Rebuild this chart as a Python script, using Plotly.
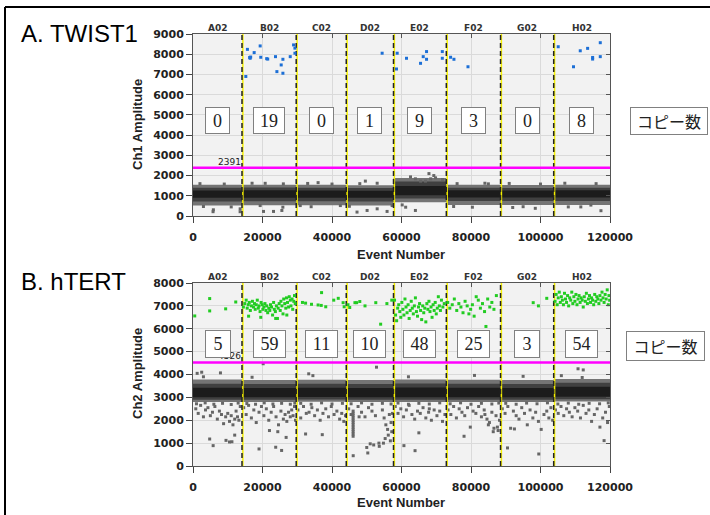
import plotly.graph_objects as go

W, H = 710, 515
def px(x):
    return x / W
def py(y):
    return 1 - y / H

# ---------------- data ----------------
wells = ["A02", "B02", "C02", "D02", "E02", "F02", "G02", "H02"]
well_edges = [0, 14100, 29700, 44100, 57700, 72900, 88500, 103800, 120000]
ch1_counts = ["0", "19", "0", "1", "9", "3", "0", "8"]
ch2_counts = ["5", "59", "11", "10", "48", "25", "3", "54"]
ch1_threshold = 2391
ch2_threshold = 4526
x_ticks = [0, 20000, 40000, 60000, 80000, 100000, 120000]
ch1_y_ticks = [0, 1000, 2000, 3000, 4000, 5000, 6000, 7000, 8000, 9000]
ch2_y_ticks = [0, 1000, 2000, 3000, 4000, 5000, 6000, 7000, 8000]

# negative droplet cloud per well (outer / mid / core bands)
ch1_outer_lo = [520, 530, 530, 520, 680, 540, 540, 540]
ch1_outer_hi = [1540, 1550, 1540, 1520, 1880, 1540, 1530, 1540]
ch1_mid_lo = [720, 730, 730, 720, 860, 740, 740, 740]
ch1_mid_hi = [1400, 1410, 1400, 1390, 1700, 1400, 1390, 1400]
ch1_core_lo = [900, 900, 900, 900, 1020, 910, 910, 910]
ch1_core_hi = [1260, 1270, 1260, 1250, 1480, 1270, 1260, 1270]

ch2_outer_lo = [2800, 2800, 2810, 2800, 2800, 2800, 2800, 2820]
ch2_outer_hi = [3780, 3760, 3770, 3760, 3780, 3770, 3760, 3800]
ch2_mid_lo = [2900, 2900, 2910, 2900, 2900, 2900, 2900, 2920]
ch2_mid_hi = [3600, 3590, 3600, 3590, 3610, 3600, 3590, 3640]
ch2_core_lo = [3010, 3010, 3020, 3010, 3010, 3010, 3010, 3030]
ch2_core_hi = [3420, 3410, 3420, 3410, 3430, 3420, 3410, 3460]

# Ch1 positive droplets (blue)
ch1_pos_x = [15200, 15660, 16300, 16440, 16600, 17600, 19330, 19500, 21200, 21500,
             23740, 24140, 25380, 25870, 25870, 27980, 28940, 29330, 29330,
             54430,
             58760, 58560, 61440, 65480, 66250, 67210, 67210, 71740, 71740,
             74130, 75090, 79130,
             105100, 109500, 111440, 113560, 115000, 115000, 117200, 117200]
ch1_pos_y = [6900, 8240, 7840, 7800, 7860, 8080, 8410, 7850, 7780, 7760,
             7880, 7140, 7470, 7750, 7060, 7880, 8460, 8300, 8050,
             8050,
             8050, 7270, 7800, 7550, 7880, 8130, 7750, 8130, 7800,
             7850, 7750, 7380,
             8370, 7380, 8170, 8290, 7840, 7760, 8570, 7880]

# Ch1 negative outliers (gray)
ch1_neg_x = [5860, 13570, 19330, 20770, 23170, 25570, 25860, 20290, 30860, 42400,
             47200, 49600, 50100, 53000, 55850, 57300, 62600, 64000, 65500, 67900,
             68400, 69800, 71800, 66900, 69300, 61200, 64000, 60200, 80400, 117400,
             111600, 114500, 5770, 13560, 92000, 98500, 36000, 84000,
             2000, 9000, 17000, 26000, 33000, 40000, 48000, 53000, 76000, 85000,
             91000, 100000, 107000, 116000,
             3000, 11000, 34000, 45000, 75000, 95000, 108000]
ch1_neg_y = [306, 355, 516, 1616, 226, 274, 435, 226, 516, 516,
             194, 1726, 274, 355, 226, 516, 1935, 1839, 1726, 2097,
             1839, 1887, 1806, 1726, 2000, 435, 274, 548, 435, 262,
             450, 540, 213, 213, 420, 380, 1650, 1620,
             1600, 1580, 1620, 1590, 1610, 1580, 1600, 1620, 1600, 1590,
             1610, 1580, 1620, 1600,
             470, 450, 460, 480, 470, 460, 450]

# Ch2 positive droplets (green)
ch2_pos_x = [500, 4800, 4800, 9400, 12300,
             14500, 14900, 15300, 15600, 15900, 16200, 16500, 16800, 17100, 17400,
             17700, 17900, 18200, 18500, 18800, 19000, 19300, 19600, 19900, 20100,
             20400, 20700, 21000, 21200, 21500, 21800, 22100, 22300, 22600, 22900,
             23200, 23400, 23700, 24000, 24300, 24500, 24800, 25100, 25300, 25600,
             25900, 26100, 26400, 26700, 26900, 27200, 27500, 27700, 28000, 28200,
             28500, 28700, 29000, 29200, 29400, 16000, 19500, 23800, 27000,
             31500, 32400, 34100, 36000, 36900, 37000, 38200, 40500, 41800, 43200, 43500,
             44600, 45100, 46600, 47100, 48000, 49500, 52600, 54000, 55800, 57200,
             58000, 58300, 58600, 58900, 59200, 59500, 59800, 60100, 60400, 60700,
             61000, 61300, 61600, 61900, 62200, 62500, 62800, 63100, 63400, 63700,
             64000, 64300, 64600, 64900, 65200, 65500, 65800, 66100, 66400, 66700,
             67000, 67300, 67600, 67900, 68200, 68500, 68800, 69100, 69400, 69700,
             70000, 70300, 70600, 70900, 71200, 71500, 71900, 72300,
             73300, 73900, 74600, 75200, 75900, 76500, 77100, 77700, 78300, 78900,
             79400, 79900, 80400, 80900, 81500, 82100, 82700, 83300, 83900, 84300,
             84800, 85400, 86000, 86600, 87300,
             97900, 99400, 101800,
             104200, 104500, 104800, 105100, 105400, 105700, 106000, 106300, 106600, 106900,
             107200, 107500, 107800, 108100, 108400, 108700, 109000, 109300, 109600, 109900,
             110200, 110500, 110800, 111100, 111400, 111700, 112000, 112300, 112600, 112900,
             113200, 113500, 113800, 114100, 114400, 114700, 115000, 115300, 115600, 115900,
             116200, 116500, 116800, 117100, 117400, 117700, 118000, 118300, 118600, 118900,
             119200, 119500, 119700, 119900]
ch2_pos_y = [6560, 7320, 6780, 6870, 7170,
             6950, 7100, 7250, 6900, 7050, 7150, 6800, 7000, 7200, 6950,
             7100, 6850, 7050, 7250, 6900, 7000, 6750, 7150, 7050, 6850,
             6950, 7100, 6800, 7000, 6700, 6900, 6800, 7050, 6950, 6600,
             7150, 6850, 6750, 7000, 6450, 6900, 7100, 6800, 7200, 7000,
             6650, 7300, 7100, 6900, 7350, 7150, 6950, 7400, 7250, 7000,
             7300, 6850, 7200, 7450, 7100, 6550, 6500, 6450, 6600,
             7150, 7120, 7070, 7040, 7020, 7580, 6960, 7250, 7330, 7140, 6960,
             7050, 6930, 7140, 7140, 7190, 7000, 7140, 6200, 7100, 7250,
             7250, 6600, 6350, 6900, 7050, 6750, 6500, 7150, 6850, 6600,
             7300, 6950, 6700, 7050, 6450, 6800, 7200, 6900, 6650, 7000,
             7350, 6750, 6550, 6950, 7100, 6800, 6400, 7000, 6700, 6900,
             6300, 7100, 6850, 7200, 6750, 6950, 6500, 7050, 6800, 7150,
             6650, 6900, 7400, 7000, 6800, 7250, 6950, 7100,
             7150, 6900, 7050, 7300, 6800, 7100, 6950, 6700, 7200, 7000,
             6650, 6850, 7050, 6550, 7400, 7250, 6900, 7100, 6750, 6100,
             7300, 6950, 7150, 6850, 7450,
             7140, 7000, 7330,
             7200, 7500, 7050, 7350, 7600, 7150, 7400, 7250, 7050, 7550,
             7300, 7150, 7450, 7000, 7350, 7250, 7600, 7100, 7400, 7200,
             7500, 7050, 7300, 7450, 7150, 7350, 7250, 6950, 7400, 7200,
             7550, 7100, 7300, 7450, 7150, 7350, 7250, 7050, 7500, 7200,
             7400, 7300, 7100, 7450, 7250, 7600, 7350, 7150, 7500, 7300,
             7700, 7050, 7450, 7250]

# Ch2 negative outliers (gray)
ch2_neg_x = [800, 1500, 2200, 3000, 3600, 4300, 5000, 5600, 6300, 7000,
             7600, 8200, 8800, 9400, 10000, 10500, 11000, 11500, 12000, 12400,
             12800, 13200, 13600, 4800, 5800, 9500, 10500, 11200, 12000, 1200,
             2500, 7900,
             14600, 15300, 16000, 16800, 17500, 18200, 19000, 19700, 20400, 21100,
             21800, 22500, 23200, 23900, 24600, 25300, 26000, 26500, 27000, 27500,
             28000, 28400, 28800, 29200, 29500, 19000, 23800, 25500, 22000, 26800,
             24400, 20200,
             30200, 31000, 31800, 32600, 33400, 34200, 35000, 35800, 36600, 37400,
             38200, 39000, 39800, 40600, 41400, 42200, 42800, 43400, 43900, 32400,
             37200, 33300,
             46080, 46080, 46080, 46080, 46080, 46080, 46080, 46080, 46080, 46080,
             46080, 46080,
             44800, 45500, 47500, 48500, 49500, 50500, 51000, 51500, 52500, 53500,
             54500, 55000, 55500, 56000, 56500, 57000, 57400, 46100, 50000, 50300,
             52000, 53600, 55300, 56200, 56800, 57200, 47800, 54800, 52800,
             58200, 59000, 59800, 60600, 61400, 62200, 63000, 63800, 64600, 65400,
             66200, 67000, 67800, 68600, 69400, 70200, 71000, 71800, 72500, 60700,
             63900, 65000, 68000,
             73400, 74200, 75000, 75800, 76600, 77400, 78200, 79000, 79800, 80600,
             81400, 82200, 83000, 83800, 84600, 85300, 86000, 86600, 87200, 87800,
             88200, 85000, 86400, 87600, 78000, 81000, 84000,
             89000, 89800, 90600, 91400, 92200, 93000, 93800, 94600, 95400, 96200,
             97000, 97800, 98600, 99400, 100200, 101000, 101800, 102400, 103000, 103500,
             90500, 99500, 92500,
             104300, 105100, 105900, 106700, 107500, 108300, 109100, 109900, 110700, 111500,
             112300, 113100, 113900, 114700, 115500, 116300, 117100, 117900, 118700, 119300,
             119800, 118300, 110800, 112300, 106000,
             1000, 3500, 6000, 8500, 11000, 13000,
             15500, 18000, 20500, 23000, 25500, 28000, 29300,
             31000, 34000, 37000, 40000, 43000,
             45500, 48500, 51500, 54500, 57000,
             59000, 62000, 65000, 68000, 71000,
             74000, 77000, 80000, 83000, 86000, 88000,
             90000, 93000, 96000, 99000, 102000,
             105000, 108000, 111000, 114000, 117000, 119500,
             3000, 17000, 34500, 62000, 95000, 112000]
ch2_neg_y = [2500, 2300, 2650, 2150, 2450, 2550, 2200, 2350, 2600, 2050,
             2400, 2250, 1850, 2150, 2300, 1950, 2200, 1800, 2050, 2400,
             2150, 2000, 2600, 1180, 890, 1120, 1050, 1060, 1350, 4050,
             4100, 4070,
             2550, 2250, 2650, 2100, 2450, 1900, 2350, 2600, 2200, 2500,
             2000, 2350, 2600, 2150, 1800, 2400, 2050, 2250, 1950, 2350,
             2150, 2450, 2200, 2600, 2000, 745, 820, 680, 1550, 1250,
             1500, 4470,
             2450, 2100, 2600, 2300, 2350, 2550, 2200, 2450, 2000, 2300,
             2500, 2150, 2600, 2250, 2400, 2050, 2300, 1950, 2200, 1400,
             1370, 4030,
             2400, 2300, 2200, 2100, 2000, 1900, 1800, 1700, 1600, 1500,
             1400, 1300,
             2500, 2250, 2600, 2350, 2150, 2550, 970, 2400, 2200, 1000,
             2450, 2100, 1800, 1600, 2250, 1900, 2300, 450, 810, 570,
             920, 860, 1200, 1350, 1100, 1500, 2150, 1000, 4320,
             2600, 2300, 2500, 2150, 2450, 2650, 2250, 2050, 2400, 2300,
             2550, 2100, 2350, 2000, 2450, 2200, 2400, 1950, 2250, 890,
             670, 1450, 2500,
             2450, 2250, 2600, 2100, 2500, 2350, 2200, 2550, 1700, 2400,
             2300, 2600, 2150, 2450, 2050, 1900, 2350, 1650, 2200, 1550,
             2000, 1800, 1500, 1700, 1300, 3960, 2250,
             2500, 2300, 2600, 1650, 2400, 2200, 2050, 2550, 2300, 1800,
             2450, 2100, 2350, 1950, 1600, 2250, 2400, 2100, 2550, 2000,
             790, 525, 1620,
             2450, 2300, 2600, 2200, 2500, 2350, 2150, 2550, 2400, 2100,
             2650, 2300, 2450, 1950, 2250, 2500, 1700, 2100, 2350, 1900,
             2600, 1110, 4250, 4200, 3950,
             2720, 2760, 2700, 2740, 2690, 2750,
             2730, 2700, 2760, 2710, 2740, 2700, 2750,
             2740, 2700, 2760, 2710, 2740,
             2720, 2760, 2700, 2740, 2710,
             2750, 2700, 2740, 2710, 2760,
             2720, 2760, 2700, 2740, 2710, 2750,
             2740, 2700, 2750, 2720, 2760,
             2710, 2750, 2700, 2740, 2720, 2760,
             3900, 3880, 3950, 3900, 3920, 3870]

# ---------------- figure ----------------
fig = go.Figure()

def band(lo, hi, color, xa, ya):
    xs, ys = [], []
    for i in range(len(lo)):
        a, b = well_edges[i], well_edges[i + 1]
        xs += [a, b, b, a, a, None]
        ys += [lo[i], lo[i], hi[i], hi[i], lo[i], None]
    fig.add_trace(go.Scatter(x=xs, y=ys, mode="lines", fill="toself", fillcolor=color,
                             line=dict(width=0, color=color), hoverinfo="skip",
                             xaxis=xa, yaxis=ya, showlegend=False))

def points(xv, yv, color, xa, ya, size=3):
    fig.add_trace(go.Scatter(x=xv, y=yv, mode="markers",
                             marker=dict(symbol="square", size=size, color=color, line=dict(width=0)),
                             xaxis=xa, yaxis=ya, showlegend=False, hoverinfo="skip"))

def dividers(ymax, xa, ya):
    xs, ys = [], []
    for b in well_edges[1:-1]:
        xs += [b, b, None]
        ys += [0, ymax, None]
    fig.add_trace(go.Scatter(x=[v + 250 if v is not None else None for v in xs], y=ys, mode="lines",
                             line=dict(color="#f5f000", width=1.5), xaxis=xa, yaxis=ya,
                             showlegend=False, hoverinfo="skip"))
    fig.add_trace(go.Scatter(x=xs, y=ys, mode="lines",
                             line=dict(color="#222222", width=1.5, dash="5px,3px"), xaxis=xa, yaxis=ya,
                             showlegend=False, hoverinfo="skip"))

def threshold(val, xa, ya):
    fig.add_trace(go.Scatter(x=[well_edges[0], well_edges[-1]], y=[val, val], mode="lines",
                             line=dict(color="#ff00ff", width=2.5), xaxis=xa, yaxis=ya,
                             showlegend=False, hoverinfo="skip"))

# panel A
band(ch1_outer_lo, ch1_outer_hi, "#747474", "x", "y")
band(ch1_mid_lo, ch1_mid_hi, "#404040", "x", "y")
band(ch1_core_lo, ch1_core_hi, "#1c1c1c", "x", "y")
points(ch1_neg_x, ch1_neg_y, "#666666", "x", "y")
dividers(9000, "x", "y")
points(ch1_pos_x, ch1_pos_y, "#1c6fd6", "x", "y")
threshold(ch1_threshold, "x", "y")

# panel B
band(ch2_outer_lo, ch2_outer_hi, "#747474", "x2", "y2")
band(ch2_mid_lo, ch2_mid_hi, "#404040", "x2", "y2")
band(ch2_core_lo, ch2_core_hi, "#1c1c1c", "x2", "y2")
points(ch2_neg_x, ch2_neg_y, "#666666", "x2", "y2")
dividers(8000, "x2", "y2")
points(ch2_pos_x, ch2_pos_y, "#22cc22", "x2", "y2")
threshold(ch2_threshold, "x2", "y2")

# invisible traces so that the mirrored tick axes (top/right) are drawn
fig.add_trace(go.Scatter(x=[None], y=[None], xaxis="x3", yaxis="y3", showlegend=False, hoverinfo="skip"))
fig.add_trace(go.Scatter(x=[None], y=[None], xaxis="x4", yaxis="y4", showlegend=False, hoverinfo="skip"))

tickfont = dict(family="DejaVu Sans", size=11, color="#222222", weight="bold")
axis_common = dict(showgrid=True, gridcolor="#dadada", gridwidth=1, zeroline=False,
                   showline=True, linecolor="#555555", linewidth=1, mirror=True,
                   ticks="outside", ticklen=6, tickcolor="#444444", tickfont=tickfont,
                   automargin=False)
inner_ticks = dict(showgrid=False, zeroline=False, showline=False, ticks="inside", ticklen=4,
                   tickcolor="#555555", showticklabels=False, automargin=False)

fig.update_layout(
    width=W, height=H, margin=dict(l=0, r=0, t=0, b=0, pad=0, autoexpand=False),
    paper_bgcolor="white", plot_bgcolor="#f2f2f2", showlegend=False,
    xaxis=dict(domain=[px(193), px(610)], range=[0, 120000], anchor="y",
               tickvals=x_ticks, ticktext=[str(v) for v in x_ticks], ticklabelstandoff=5, **axis_common),
    yaxis=dict(domain=[py(216), py(34)], range=[0, 9000], anchor="x",
               tickvals=ch1_y_ticks, ticktext=[str(v) for v in ch1_y_ticks], **axis_common),
    xaxis2=dict(domain=[px(193), px(610)], range=[0, 120000], anchor="y2",
                tickvals=x_ticks, ticktext=[str(v) for v in x_ticks], ticklabelstandoff=5, **axis_common),
    yaxis2=dict(domain=[py(466), py(283)], range=[0, 8000], anchor="x2",
                tickvals=ch2_y_ticks, ticktext=[str(v) for v in ch2_y_ticks], **axis_common),
    xaxis3=dict(overlaying="x", side="top", anchor="y3", range=[0, 120000], tickvals=x_ticks, **inner_ticks),
    yaxis3=dict(overlaying="y", side="right", anchor="x3", range=[0, 9000], tickvals=ch1_y_ticks, **inner_ticks),
    xaxis4=dict(overlaying="x2", side="top", anchor="y4", range=[0, 120000], tickvals=x_ticks, **inner_ticks),
    yaxis4=dict(overlaying="y2", side="right", anchor="x4", range=[0, 8000], tickvals=ch2_y_ticks, **inner_ticks),
)

ann = []
def note(text, x, y, xref="paper", font=None, **kw):
    d = dict(text=text, x=x, y=y, xref=xref, yref="paper", showarrow=False,
             xanchor="center", yanchor="middle", font=font)
    d.update(kw)
    ann.append(d)

title_big = dict(family="Liberation Sans", size=24, color="black")
note("A. TWIST1", px(19), py(33), font=title_big, xanchor="left")
note("B. hTERT", px(19), py(281), font=title_big, xanchor="left")

title_font = dict(family="Liberation Sans", size=13, color="#222222", weight="bold")
note("Ch1 Amplitude", px(137), py(125), font=title_font, textangle=-90)
note("Ch2 Amplitude", px(137), py(374), font=title_font, textangle=-90)
note("Event Number", px(401), py(254), font=title_font)
note("Event Number", px(401), py(502), font=title_font)

well_font = dict(family="DejaVu Sans", size=9, color="#333333", weight="bold")
for i, w in enumerate(wells):
    c = (well_edges[i] + well_edges[i + 1]) / 2
    note(w, c, py(28), xref="x", font=well_font)
    note(w, c, py(277), xref="x2", font=well_font)

thr_font = dict(family="DejaVu Sans", size=9, color="#222222")
note(str(ch1_threshold), px(229), py(162), font=thr_font)
note(str(ch2_threshold), px(229), py(356), font=thr_font)

box_font = dict(family="Liberation Serif", size=18, color="#222222")
box_style = dict(borderpad=0, borderwidth=1, bordercolor="#808080", bgcolor="white")
for i, t in enumerate(ch1_counts):
    c = (well_edges[i] + well_edges[i + 1]) / 2
    note(t, c, py(120), xref="x", font=box_font, width=30 if len(t) > 1 else 23, height=25, **box_style)
for i, t in enumerate(ch2_counts):
    c = (well_edges[i] + well_edges[i + 1]) / 2
    note(t, c, py(344), xref="x2", font=box_font, width=31 if len(t) > 1 else 24, height=26, **box_style)

copy_font = dict(family="Noto Sans CJK JP", size=16, color="#222222")
note("コピー数", px(669), py(121), font=copy_font, width=76, height=26, **box_style)
note("コピー数", px(665), py(346), font=copy_font, width=77, height=28, **box_style)

fig.update_layout(annotations=ann)

# outer frame (left and top edges visible)
fig.add_shape(type="line", xref="paper", yref="paper", x0=px(5), x1=px(5), y0=0, y1=py(7),
              line=dict(color="black", width=2))
fig.add_shape(type="line", xref="paper", yref="paper", x0=px(5), x1=1, y0=py(7), y1=py(7),
              line=dict(color="black", width=2))

fig.write_html("out.html", config={"displayModeBar": False},
               post_script="document.body.style.margin='0';document.body.style.padding='0';"
                           "document.documentElement.style.overflow='hidden';"
                           "document.body.style.overflow='hidden';")
